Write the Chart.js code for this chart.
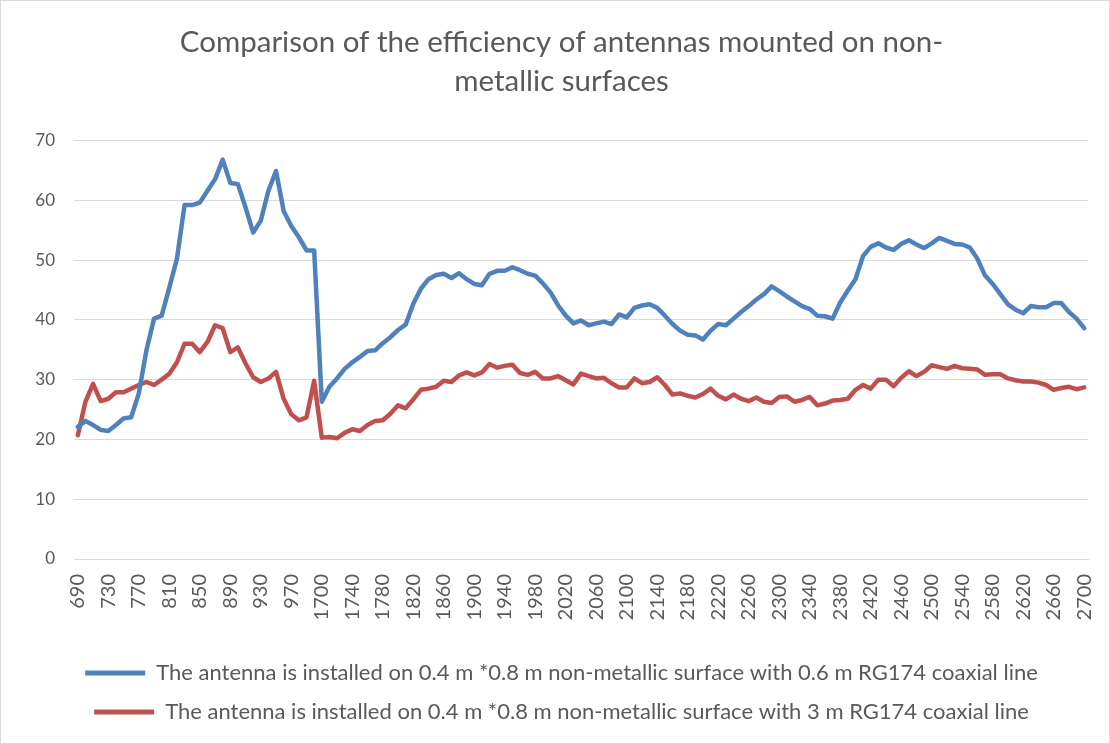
<!DOCTYPE html>
<html lang="en">

<head>
    <meta charset="UTF-8">
    <title>Antenna efficiency</title>
    <script src="https://cdn.jsdelivr.net/npm/chart.js@4.4.1/dist/chart.umd.min.js"></script>
    <style>
        html, body { margin: 0; padding: 0; background: #fff; }
        .box {
            width: 1110px;
            height: 744px;
            box-sizing: border-box;
            border: 1px solid #d9d9d9;
        }
    </style>
</head>

<body>
    <div class="box">
        <canvas id="mychart"></canvas>
    </div>

    <script>
        // frequency (MHz) categories
        var freqLow = [690, 700, 710, 720, 730, 740, 750, 760, 770, 780,
            790, 800, 810, 820, 830, 840, 850, 860, 870, 880,
            890, 900, 910, 920, 930, 940, 950, 960, 970, 980,
            990, 1000];
        var freqHigh = [1700, 1710, 1720, 1730, 1740, 1750, 1760, 1770, 1780, 1790,
            1800, 1810, 1820, 1830, 1840, 1850, 1860, 1870, 1880, 1890,
            1900, 1910, 1920, 1930, 1940, 1950, 1960, 1970, 1980, 1990,
            2000, 2010, 2020, 2030, 2040, 2050, 2060, 2070, 2080, 2090,
            2100, 2110, 2120, 2130, 2140, 2150, 2160, 2170, 2180, 2190,
            2200, 2210, 2220, 2230, 2240, 2250, 2260, 2270, 2280, 2290,
            2300, 2310, 2320, 2330, 2340, 2350, 2360, 2370, 2380, 2390,
            2400, 2410, 2420, 2430, 2440, 2450, 2460, 2470, 2480, 2490,
            2500, 2510, 2520, 2530, 2540, 2550, 2560, 2570, 2580, 2590,
            2600, 2610, 2620, 2630, 2640, 2650, 2660, 2670, 2680, 2690,
            2700];
        var categories = freqLow.concat(freqHigh);

        // efficiency (%) - 0.6 m cable
        var eff06 = [22.1, 23.1, 22.4, 21.6, 21.4, 22.4, 23.5, 23.7, 27.7, 34.9,
            40.2, 40.7, 45.4, 50.2, 59.2, 59.2, 59.6, 61.6, 63.5, 66.8,
            62.9, 62.7, 58.8, 54.6, 56.6, 61.6, 64.9, 58.2, 55.7, 53.8,
            51.6, 51.6, 26.3, 28.8, 30.2, 31.8, 32.9, 33.8, 34.8, 34.9,
            36.1, 37.1, 38.3, 39.2, 42.7, 45.2, 46.8, 47.5, 47.7, 47.0,
            47.8, 46.8, 46.0, 45.8, 47.7, 48.2, 48.2, 48.8, 48.3, 47.7,
            47.4, 46.1, 44.6, 42.4, 40.7, 39.4, 39.9, 39.1, 39.4, 39.7,
            39.3, 40.9, 40.4, 42.0, 42.4, 42.6, 42.0, 40.7, 39.3, 38.2,
            37.5, 37.4, 36.7, 38.2, 39.3, 39.1, 40.2, 41.3, 42.3, 43.4,
            44.3, 45.6, 44.8, 43.9, 43.1, 42.3, 41.8, 40.7, 40.6, 40.2,
            42.9, 44.9, 46.8, 50.7, 52.2, 52.8, 52.1, 51.7, 52.7, 53.3,
            52.6, 52.0, 52.8, 53.7, 53.2, 52.7, 52.6, 52.1, 50.2, 47.4,
            46.0, 44.3, 42.6, 41.7, 41.1, 42.3, 42.1, 42.1, 42.8, 42.8,
            41.3, 40.2, 38.6];

        // efficiency (%) - 3 m cable
        var eff3 = [20.7, 26.3, 29.3, 26.4, 26.8, 27.9, 27.9, 28.5, 29.1, 29.6,
            29.1, 30.0, 31.0, 32.9, 36.0, 36.0, 34.6, 36.3, 39.1, 38.6,
            34.6, 35.4, 32.7, 30.4, 29.6, 30.2, 31.3, 26.8, 24.2, 23.2,
            23.7, 29.8, 20.3, 20.4, 20.2, 21.1, 21.7, 21.4, 22.4, 23.1,
            23.2, 24.3, 25.7, 25.2, 26.7, 28.3, 28.5, 28.8, 29.8, 29.6,
            30.7, 31.2, 30.7, 31.2, 32.6, 32.0, 32.3, 32.5, 31.1, 30.8,
            31.3, 30.2, 30.2, 30.6, 29.9, 29.2, 31.0, 30.6, 30.2, 30.3,
            29.4, 28.7, 28.7, 30.2, 29.4, 29.6, 30.4, 29.1, 27.5, 27.7,
            27.3, 27.0, 27.6, 28.5, 27.3, 26.7, 27.5, 26.8, 26.4, 27.0,
            26.3, 26.1, 27.1, 27.2, 26.3, 26.6, 27.1, 25.7, 26.0, 26.5,
            26.6, 26.8, 28.3, 29.1, 28.5, 30.0, 30.0, 28.9, 30.3, 31.4,
            30.6, 31.3, 32.4, 32.1, 31.8, 32.3, 31.9, 31.8, 31.7, 30.8,
            30.9, 30.9, 30.2, 29.9, 29.7, 29.7, 29.5, 29.1, 28.3, 28.6,
            28.8, 28.4, 28.7];

        var yTicks = [0, 10, 20, 30, 40, 50, 60, 70];

        var titleLines = ['Comparison of the efficiency of antennas mounted on non-', 'metallic surfaces'];
        var seriesNames = [
            'The antenna is installed on 0.4 m *0.8 m non-metallic surface with 0.6 m RG174 coaxial line',
            'The antenna is installed on 0.4 m *0.8 m non-metallic surface with 3 m RG174 coaxial line'
        ];

        var textColor = '#595959';
        var fontName = 'Lato, "Open Sans", sans-serif';

        const ctx = document.getElementById('mychart');

        var mychart = new Chart(ctx, {
            type: 'line',
            data: {
                labels: categories,
                datasets: [{
                    label: seriesNames[0],
                    data: eff06,
                    borderColor: '#4F81BD',
                    backgroundColor: '#4F81BD',
                    borderWidth: 4.5,
                    pointRadius: 0,
                    borderJoinStyle: 'round',
                    borderCapStyle: 'round'
                }, {
                    label: seriesNames[1],
                    data: eff3,
                    borderColor: '#C0504D',
                    backgroundColor: '#C0504D',
                    borderWidth: 4.5,
                    pointRadius: 0,
                    borderJoinStyle: 'round',
                    borderCapStyle: 'round'
                }]
            },
            options: {
                responsive: true,
                maintainAspectRatio: false,
                animation: false,
                layout: {
                    // left padding pushes title/legend centre to the right like the original
                    padding: { left: 34, right: 21, top: 0, bottom: 10 }
                },
                plugins: {
                    title: {
                        display: true,
                        text: titleLines,
                        color: textColor,
                        font: { family: fontName, size: 29.5, weight: 'normal', lineHeight: 1.33 },
                        padding: { top: 22, bottom: 39 }
                    },
                    legend: {
                        position: 'bottom',
                        labels: {
                            color: textColor,
                            font: { family: fontName, size: 22 },
                            boxWidth: 60,
                            boxHeight: 5,
                            padding: 17,
                            generateLabels: function (chart) {
                                var items = Chart.defaults.plugins.legend.labels.generateLabels(chart);
                                items.forEach(function (it) { it.lineWidth = 0; });
                                return items;
                            }
                        }
                    },
                    tooltip: { enabled: false }
                },
                scales: {
                    x: {
                        offset: true,
                        grid: { display: false, drawTicks: false },
                        border: { display: true, color: '#d9d9d9' },
                        ticks: {
                            autoSkip: false,
                            minRotation: 90,
                            maxRotation: 90,
                            padding: 15,
                            color: textColor,
                            font: { family: fontName, size: 20 },
                            callback: function (val, index) {
                                // every 4th category gets a label
                                return index % 4 === 0 ? categories[index] : '';
                            }
                        },
                        afterFit: function (scale) {
                            scale.height = 86;
                            scale.paddingLeft = 0;
                            scale.paddingRight = 0;
                        }
                    },
                    y: {
                        min: yTicks[0],
                        max: yTicks[yTicks.length - 1],
                        grid: { color: '#d9d9d9', drawTicks: false },
                        border: { display: false },
                        ticks: {
                            stepSize: 10,
                            padding: 19,
                            color: textColor,
                            font: { family: fontName, size: 17 }
                        },
                        afterFit: function (scale) { scale.width = 39; }
                    }
                }
            }
        });
    </script>
</body>

</html>
